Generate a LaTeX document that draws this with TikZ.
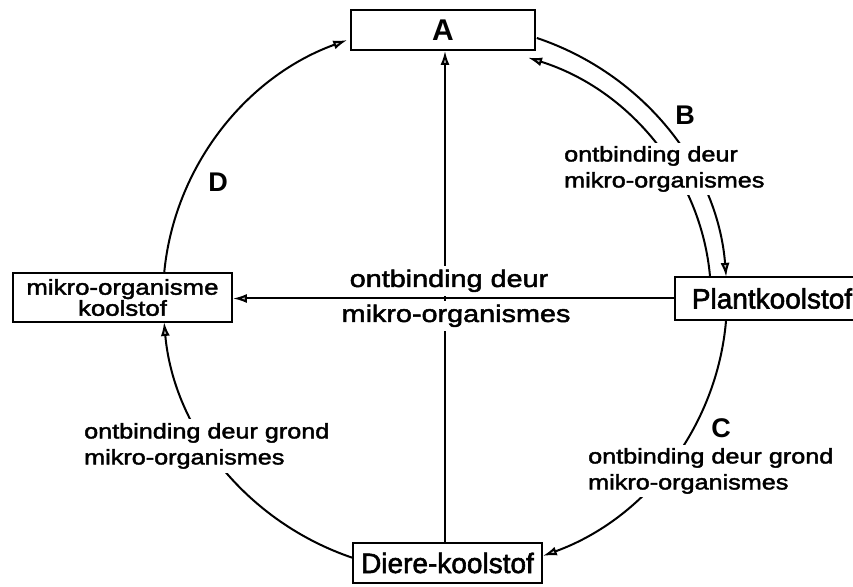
\documentclass[tikz,border=0pt]{standalone}
\usepackage{fontspec}
\setmainfont{Liberation Sans}
\newfontfamily\lblfont{Liberation Sans}[FakeStretch=1.2,FakeBold=2]
\newfontfamily\boxface{Liberation Sans}[FakeBold=2]
\usepackage{tikz}
\usetikzlibrary{arrows.meta}
\newcommand{\lbl}{\lblfont\fontsize{21}{26}\selectfont}
\newcommand{\boxfont}{\boxface\fontsize{28}{32}\selectfont}
\newcommand{\ltrfont}{\bfseries\fontsize{27}{30}\selectfont}
\tikzset{
  stock/.style={draw, line width=1.8pt, fill=white, inner sep=0pt},
  flow/.style={line width=2pt, -{Latex[length=14pt,width=9pt,fill=gray!50]}},
  note/.style={fill=white, align=left, inner sep=3pt, font=\lbl},
  letter/.style={font=\ltrfont},
}

\begin{document}
\begin{tikzpicture}[x=1pt,y=1pt]
\useasboundingbox (0,0) rectangle (853,586);
\clip (0,0) rectangle (853,586);
\coordinate (c) at (445,288);
\node[stock, minimum width=184pt, minimum height=40pt, font=\ltrfont\fontsize{30}{32}\selectfont] (A) at (443,556) {A};
\node[stock, minimum width=219pt, minimum height=49pt, align=center,
  font=\lblfont\fontsize{21.5}{17}\selectfont] (mk) at (122.5,288.5) {mikro-organisme\\koolstof};
\node[stock, minimum width=194pt, minimum height=43pt, font=\boxfont] (pk) at (772,287.5) {Plantkoolstof};
\node[stock, minimum width=189pt, minimum height=40pt, font=\boxfont] (dk) at (447.5,23) {Diere-koolstof};
% kringloop
\draw[flow] ([shift={(174.8:282pt and 275pt)}]c) arc[start angle=174.8, end angle=110.3, x radius=282pt, y radius=275pt];
\draw[flow] ([shift={(71:282pt and 275pt)}]c) arc[start angle=71, end angle=4.4, x radius=282pt, y radius=275pt];
\draw[flow] ([shift={(4.76:266pt and 253pt)}]c) arc[start angle=4.76, end angle=71.8, x radius=266pt, y radius=253pt];
\draw[flow] ([shift={(-4.6:282pt and 275pt)}]c) arc[start angle=-4.6, end angle=-69.7, x radius=282pt, y radius=275pt];
\draw[flow] ([shift={(251:282pt and 275pt)}]c) arc[start angle=251, end angle=185, x radius=282pt, y radius=275pt];
\draw[flow] (dk.north -| c) -- (A.south -| c);
% byskrifte
\node[note, anchor=north west] (nb) at (561,443) {ontbinding deur\\mikro-organismes};
\node[note, anchor=north west] (nc) at (585,141) {ontbinding deur grond\\mikro-organismes};
\node[note, anchor=north west, inner sep=4pt] (nd) at (80,167) {ontbinding deur grond\\mikro-organismes};
\node[fill=white, inner xsep=3pt, inner ysep=4pt, anchor=base, font=\lblfont\fontsize{24}{28}\selectfont] (cu) at (449,299) {ontbinding deur};
\node[fill=white, inner xsep=3pt, inner ysep=4pt, anchor=base, font=\lblfont\fontsize{24}{28}\selectfont] (cl) at (456,264) {mikro-organismes};
\draw[flow] (pk.west) -- (pk.west -| mk.east);
\node[letter] (lb) at (685,471) {B};
\node[letter] (lc) at (721,158) {C};
\node[letter] (ld) at (218,404) {D};
\end{tikzpicture}
\end{document}
